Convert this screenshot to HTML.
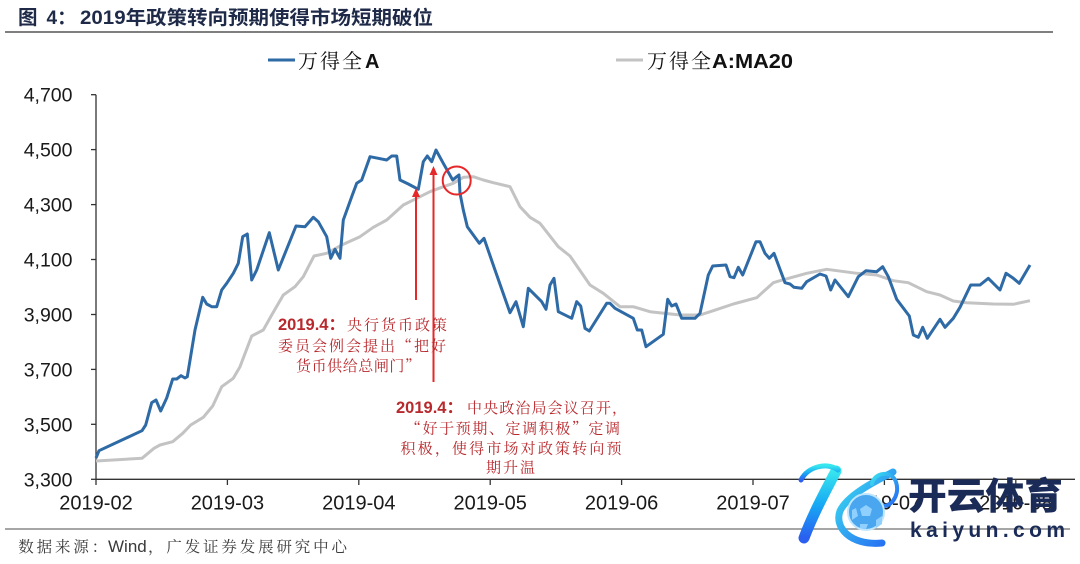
<!DOCTYPE html>
<html><head><meta charset="utf-8">
<style>
html,body{margin:0;padding:0;background:#fff;}
svg{display:block;}
</style></head>
<body>
<svg width="1080" height="564" viewBox="0 0 1080 564" xmlns="http://www.w3.org/2000/svg">
<rect width="1080" height="564" fill="#fff"/>
<defs>
<linearGradient id="kg" x1="0" y1="0" x2="0" y2="1">
<stop offset="0" stop-color="#38e6ee"/>
<stop offset="0.5" stop-color="#17a9f4"/>
<stop offset="1" stop-color="#2a5ff0"/>
</linearGradient>
<linearGradient id="kg2" x1="0" y1="0" x2="1" y2="1">
<stop offset="0" stop-color="#3be0f0"/>
<stop offset="1" stop-color="#2668f2"/>
</linearGradient>
</defs>

<!-- Title -->
<g font-family="'Liberation Sans','Noto Sans CJK SC',sans-serif" font-weight="bold" fill="#1e2a48">
<text x="18" y="24" font-size="19.5">图</text>
<text x="46.5" y="24" font-size="19">4：</text>
<text x="80" y="24" font-size="19" textLength="353" lengthAdjust="spacingAndGlyphs">2019年政策转向预期使得市场短期破位</text>
</g>
<line x1="5" y1="32" x2="1053" y2="32" stroke="#7f7f7f" stroke-width="2"/>

<!-- Legend -->
<line x1="268" y1="60" x2="295" y2="60" stroke="#2e6aa5" stroke-width="3"/>
<text x="298" y="68" font-size="20" font-family="'Noto Serif CJK SC',serif" fill="#111" textLength="64" lengthAdjust="spacing">万得全</text>
<text x="365" y="68" font-size="20" font-weight="bold" font-family="'Liberation Sans',sans-serif" fill="#111">A</text>
<line x1="616" y1="60" x2="643" y2="60" stroke="#c3c3c3" stroke-width="3"/>
<text x="647" y="68" font-size="20" font-family="'Noto Serif CJK SC',serif" fill="#111" textLength="64" lengthAdjust="spacing">万得全</text>
<text x="712" y="68" font-size="20" font-weight="bold" font-family="'Liberation Sans',sans-serif" fill="#111" textLength="81" lengthAdjust="spacingAndGlyphs">A:MA20</text>

<!-- Axes -->
<g stroke="#333" stroke-width="1.3" fill="none">
<line x1="96" y1="94.7" x2="96" y2="479.3"/>
<line x1="96" y1="479.3" x2="1075" y2="479.3"/>
<line x1="91" y1="94.7" x2="96" y2="94.7"/>
<line x1="91" y1="149.6" x2="96" y2="149.6"/>
<line x1="91" y1="204.6" x2="96" y2="204.6"/>
<line x1="91" y1="259.5" x2="96" y2="259.5"/>
<line x1="91" y1="314.5" x2="96" y2="314.5"/>
<line x1="91" y1="369.4" x2="96" y2="369.4"/>
<line x1="91" y1="424.3" x2="96" y2="424.3"/>
<line x1="91" y1="479.3" x2="96" y2="479.3"/>
<line x1="96" y1="479.3" x2="96" y2="485"/>
<line x1="227.4" y1="479.3" x2="227.4" y2="485"/>
<line x1="358.8" y1="479.3" x2="358.8" y2="485"/>
<line x1="490.2" y1="479.3" x2="490.2" y2="485"/>
<line x1="621.6" y1="479.3" x2="621.6" y2="485"/>
<line x1="753" y1="479.3" x2="753" y2="485"/>
<line x1="884.4" y1="479.3" x2="884.4" y2="485"/>
<line x1="1015.8" y1="479.3" x2="1015.8" y2="485"/>
</g>
<g font-family="'Liberation Sans',sans-serif" font-size="19.5" fill="#1a1a1a" text-anchor="end">
<text x="72.5" y="101.7">4,700</text>
<text x="72.5" y="156.6">4,500</text>
<text x="72.5" y="211.6">4,300</text>
<text x="72.5" y="266.5">4,100</text>
<text x="72.5" y="321.5">3,900</text>
<text x="72.5" y="376.4">3,700</text>
<text x="72.5" y="431.3">3,500</text>
<text x="72.5" y="486.3">3,300</text>
</g>
<g font-family="'Liberation Sans',sans-serif" font-size="20" fill="#1a1a1a" text-anchor="middle">
<text x="96" y="509.5">2019-02</text>
<text x="227.4" y="509.5">2019-03</text>
<text x="358.8" y="509.5">2019-04</text>
<text x="490.2" y="509.5">2019-05</text>
<text x="621.6" y="509.5">2019-06</text>
<text x="753" y="509.5">2019-07</text>
<text x="884.4" y="509.5">2019-07</text>
<text x="1015.8" y="509.5">2019-08</text>
</g>

<!-- Series -->
<polyline fill="none" stroke="#c3c3c3" stroke-width="3" stroke-linejoin="round" points="96,461 142,458.3 154,448.3 160,445 172.7,441.7 182.7,433.3 190.7,425 203.3,417.3 212.7,406 221.7,386.7 233.3,378.3 240,366.7 251.7,336 263.3,330 271.7,315 283.3,295 295,286.7 303.3,276.7 314,256 326.7,253.3 341.7,245 360,236.7 373.3,227.3 386.7,220 403.3,205 416.7,198.3 430,191.7 441.7,187.3 453.3,183.3 463.3,177.3 473.3,176.7 483.3,180 493.3,182.7 510,186.7 520,206.7 530,217.3 540,223.3 558.3,246.7 570,256 590,285 603.3,293.3 620,306.7 633.3,306.7 650,311.7 680,315 700,315 713.3,310.7 733.3,304 756.7,297.7 773.3,282.7 780,280.7 806.7,273.3 826.7,269.3 856.7,273.3 876.7,275 893.3,280.7 908.3,282.7 926.7,291.7 940,295 953.3,301 966.7,302.7 993.3,304 1013.3,304.3 1030,300.7"/>
<polyline fill="none" stroke="#2e6aa5" stroke-width="3" stroke-linejoin="round" points="96,458 99,450.7 142,430.7 145.7,425 151.7,402.7 156,400 160.7,411 166.7,398 172.7,379 176.7,379 181,375.7 185,378 187.3,376.7 195,330 202.7,297.3 206.7,304 211.7,306.7 216.7,306.7 221.7,290 226.7,283.3 233.3,273.3 238.3,263.3 242.7,236.7 247.3,234 251.7,280 256.7,270 269.3,232.7 278.3,270 285,253.3 296,226 305,226.7 313.3,217.3 318.3,221.7 326.7,236.7 330.7,258.3 335,249.3 340,258.3 343.3,220 351.7,196.7 356.7,183.3 361.7,180 370,156.7 378.3,158.3 386.7,160 391.7,156 396.7,156 400,180 408.3,184 418.3,189.3 423.3,161.7 427.3,156 431.7,161.7 436,150 443.3,163.3 452.7,180 456.7,176.7 459,175 460,193.3 463.3,210 467.3,226.7 479.3,243.3 484,238.3 495,270 510,312.7 516,301.7 523.3,326.7 528.3,288.3 541.7,301.7 546,309.3 550,285 554,278.3 558.3,311.7 571.7,318.3 576.7,301.7 580.7,306 585,328.3 589.3,331 606.7,303.3 610,303.3 615,308.3 633.3,318.3 637.3,330 641.7,330 646,346.7 663.3,334.3 667.7,299.3 671.7,306 676,304 681.7,318.3 695,318.3 700,313.3 708.3,275 712.7,266 726,265 730,276.7 734,277.7 738.3,267.3 742.7,275 756,241.7 760,241.7 765,253.3 769.3,258.3 774,253.3 785,282.7 790,284 794,287.3 801.7,288.3 806.7,281.7 820,274 826,276 830.7,290 835,280 848.3,296.7 858.3,276.7 866,270.7 876.7,271.7 882.7,266.7 888.3,276.7 896.7,299.3 909.3,316 913.3,335 918.3,337.3 922.7,327.3 927.3,338.3 940,319.3 945,327.3 953.3,318.3 960,307.3 970.7,285 980,285 988.3,278.3 1000,290 1006,273.3 1013.3,278.3 1019.3,283.3 1030,265"/>

<!-- Annotations: arrows + circle -->
<g stroke="#e5282a" stroke-width="2" fill="none">
<line x1="416" y1="300" x2="416" y2="195"/>
<line x1="433.5" y1="382" x2="433.5" y2="173"/>
<circle cx="456.7" cy="180.5" r="14"/>
</g>
<g fill="#e5282a">
<polygon points="416,188 412,197 420,197"/>
<polygon points="433.5,166 429.5,175 437.5,175"/>
</g>

<!-- Annotation text 1 -->
<g fill="#b8292d">
<text x="278" y="330" font-family="'Liberation Sans','Noto Sans CJK SC',sans-serif" font-weight="bold" font-size="16.5">2019.4：</text>
<text x="347" y="330" font-family="'Noto Serif CJK SC',serif" font-size="15" textLength="100" lengthAdjust="spacing">央行货币政策</text>
<text x="278" y="351" font-family="'Noto Serif CJK SC',serif" font-size="15" textLength="168" lengthAdjust="spacing">委员会例会提出“把好</text>
<text x="296" y="371" font-family="'Noto Serif CJK SC',serif" font-size="15" textLength="124" lengthAdjust="spacing">货币供给总闸门”</text>
</g>
<!-- Annotation text 2 -->
<g fill="#b8292d">
<text x="396" y="413" font-family="'Liberation Sans','Noto Sans CJK SC',sans-serif" font-weight="bold" font-size="16.5">2019.4：</text>
<text x="467" y="413" font-family="'Noto Serif CJK SC',serif" font-size="15" textLength="160" lengthAdjust="spacing">中央政治局会议召开，</text>
<text x="406" y="433.5" font-family="'Noto Serif CJK SC',serif" font-size="15" textLength="214" lengthAdjust="spacing">“好于预期、定调积极”定调</text>
<text x="400.5" y="453.5" font-family="'Noto Serif CJK SC',serif" font-size="15" textLength="221" lengthAdjust="spacing">积极，使得市场对政策转向预</text>
<text x="486" y="472.5" font-family="'Noto Serif CJK SC',serif" font-size="15" textLength="49" lengthAdjust="spacing">期升温</text>
</g>

<!-- Footer -->
<line x1="5" y1="529" x2="1070" y2="529" stroke="#888" stroke-width="1.5"/>
<g fill="#3a3a3a">
<text x="18.3" y="552" font-family="'Noto Serif CJK SC',serif" font-size="15.5" textLength="89" lengthAdjust="spacing">数据来源：</text>
<text x="108" y="552" font-family="'Liberation Sans',sans-serif" font-size="17">Wind</text>
<text x="148" y="552" font-family="'Noto Serif CJK SC',serif" font-size="15.5" textLength="199" lengthAdjust="spacing">，广发证券发展研究中心</text>
</g>

<!-- Watermark -->
<g>
<path d="M836 471 C826 490 813 514 804 538" stroke="url(#kg)" stroke-width="11" fill="none" stroke-linecap="round"/>
<path d="M838 470 C828 462 808 466 801 480" stroke="url(#kg)" stroke-width="5" fill="none" stroke-linecap="round"/>
<path d="M893 472 C878 480 848 494 840 511 C834 527 850 546 882 543" stroke="url(#kg2)" stroke-width="7" fill="none" stroke-linecap="round"/>
<path d="M872 484 C874 472 892 470 896 482 C900 494 892 506 884 506" stroke="url(#kg2)" stroke-width="4" fill="none" stroke-linecap="round"/>
<circle cx="866" cy="512" r="18" fill="#4aa6ef" stroke="#bfe6ff" stroke-width="2"/>
<polygon points="866,505 872,509 870,516 862,516 860,509" fill="#8fd0ff"/>
<polygon points="852,510 856,508 858,516 852,520" fill="#8fd0ff"/>
<polygon points="876,520 882,516 882,524 876,528" fill="#8fd0ff"/>
<polygon points="860,524 868,524 866,529 860,528" fill="#8fd0ff"/>
<text x="908" y="509" font-family="'Noto Sans CJK SC',sans-serif" font-weight="900" font-size="37" fill="#1b2b58" textLength="155" lengthAdjust="spacingAndGlyphs">开云体育</text>
<text x="910" y="537" font-family="'Liberation Sans',sans-serif" font-weight="bold" font-size="21" fill="#1b2b58" textLength="155" lengthAdjust="spacing">kaiyun.com</text>
</g>
</svg>
</body></html>
